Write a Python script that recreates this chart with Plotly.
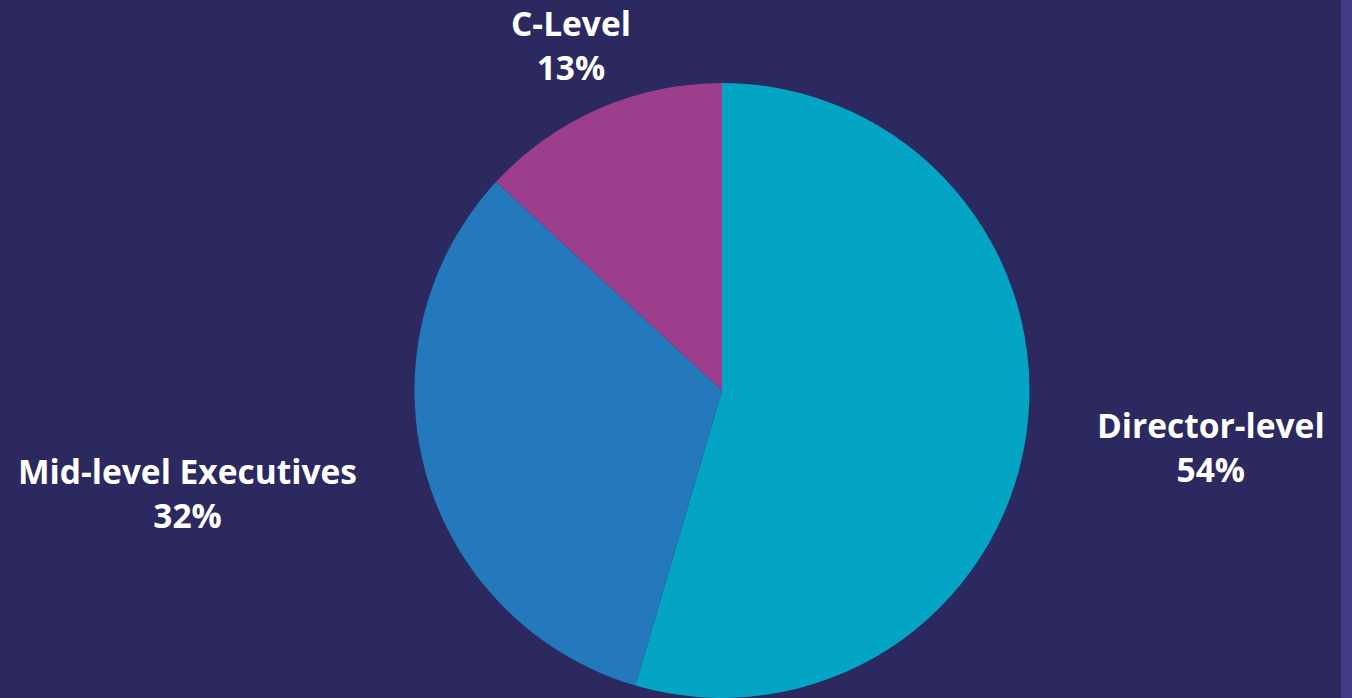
import plotly.graph_objects as go

labels = ["Director-level", "Mid-level Executives", "C-Level"]
values = [54, 32, 13]
colors = ["#04A5C4", "#2479BD", "#9D3E8D"]
# label centres in pixels (x from left, y from top)
label_px = [(1211, 447), (187, 493), (571, 45)]

W, H = 1352, 698
cx, cy, R = 722, 391, 308

fig = go.Figure(go.Pie(
    labels=labels,
    values=values,
    marker=dict(colors=colors, line=dict(width=0)),
    sort=False,
    direction="clockwise",
    rotation=0,
    textinfo="none",
    hoverinfo="label+value",
    showlegend=False,
    domain=dict(x=[(cx - R) / W, (cx + R) / W], y=[max(0, (H - cy - R) / H), (H - cy + R) / H]),
))

for lab, v, (px, py) in zip(labels, values, label_px):
    fig.add_annotation(
        x=px / W, y=1 - py / H, xref="paper", yref="paper",
        text=f"{lab}<br>{v}%", showarrow=False,
        xanchor="center", yanchor="middle", align="center",
        font=dict(family="Open Sans", size=33.5, color="white", weight=700),
    )

fig.add_shape(type="rect", xref="paper", yref="paper", x0=1341 / W, x1=1, y0=0, y1=1,
              fillcolor="#443b86", line=dict(width=0), layer="below")

fig.update_layout(
    width=W, height=H,
    margin=dict(l=0, r=0, t=0, b=0),
    paper_bgcolor="#2c2860",
    plot_bgcolor="#2c2860",
)

fig.write_html("out.html", config={"displayModeBar": False},
               post_script="document.body.style.margin='0';document.body.style.background='#2c2860';")
